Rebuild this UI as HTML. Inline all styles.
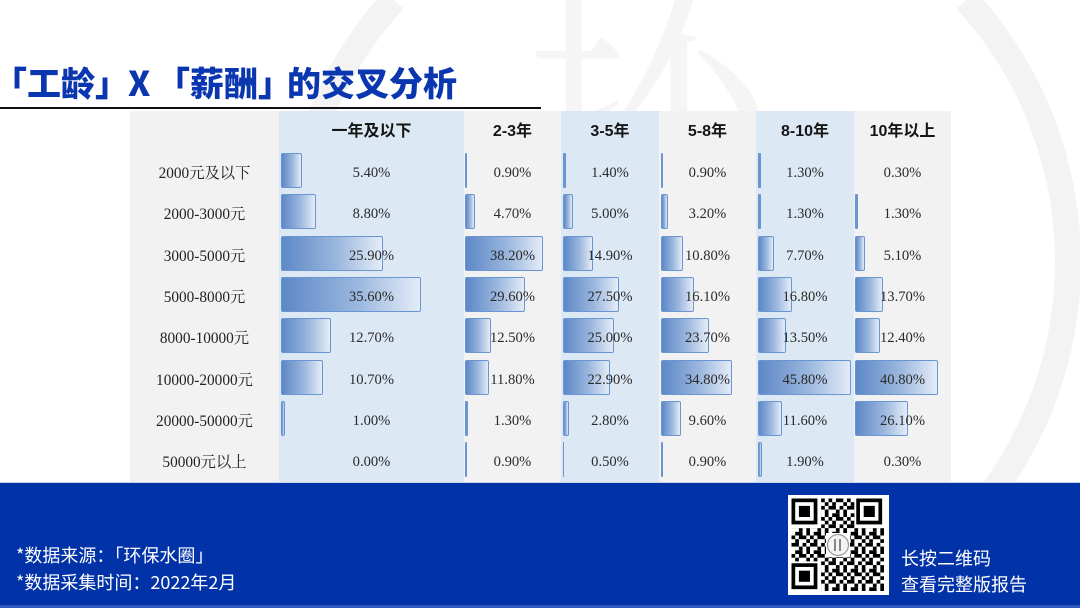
<!DOCTYPE html>
<html>
<head>
<meta charset="utf-8">
<style>
  html{margin:0;padding:0;width:1080px;height:608px;overflow:hidden;}
  body{margin:0;padding:0;width:1080px;height:608px;position:relative;overflow:hidden;background:#ffffff;
       font-family:"Liberation Sans","Noto Sans CJK SC",sans-serif;}
  .abs{position:absolute;}
  .title{position:absolute;top:64px;height:36px;line-height:36px;font-size:34px;font-weight:900;
         color:#0a36b0;font-family:"Noto Sans CJK SC","Liberation Sans",sans-serif;white-space:nowrap;}
  .col{position:absolute;top:111px;height:372px;}
  .hd{position:absolute;top:120px;height:24px;line-height:24px;text-align:center;font-size:16px;font-weight:bold;
      color:#151515;font-family:"Liberation Sans","Noto Sans CJK SC",sans-serif;white-space:nowrap;}
  .row{position:absolute;left:130px;width:821px;height:35px;}
  .lab{position:absolute;left:0;width:149px;top:3px;height:35px;line-height:35px;text-align:center;
       font-size:15.3px;color:#222;font-family:"Liberation Serif","Noto Serif CJK SC",serif;white-space:nowrap;}
  .b{position:absolute;top:0;height:35px;box-sizing:border-box;border:1px solid #6a95d3;border-radius:2px;
     background:linear-gradient(90deg,#5d88c7 0%,#9bb7de 55%,#e4ecf7 100%);}
  .t{position:absolute;top:0;height:35px;background:#6a95d3;border-radius:1px;}
  .v{position:absolute;top:3px;height:35px;line-height:35px;text-align:center;font-size:14.6px;color:#2a2a2a;
     font-family:"Liberation Serif",serif;white-space:nowrap;}
  .foot{position:absolute;left:0;top:483px;width:1080px;height:125px;background:#0232a8;}
  .ft{position:absolute;color:#ffffff;font-size:18px;line-height:26px;white-space:nowrap;
      font-family:"Noto Sans CJK SC","Liberation Sans",sans-serif;}
</style>
</head>
<body>

<!-- watermark ring (arcs only within frame) -->
<svg class="abs" style="left:0;top:0" width="1080" height="608" viewBox="0 0 1080 608">
  <path d="M 966.2 0 A 388 388 0 0 1 855.6 608" fill="none" stroke="#f3f3f3" stroke-width="26"/>
  <path d="M 393.8 0 A 388 388 0 0 0 504.4 608" fill="none" stroke="#f3f3f3" stroke-width="26"/>
</svg>
<div class="abs" style="left:520px;top:-70px;height:260px;font-size:250px;line-height:260px;color:#f5f5f5;font-family:'Noto Serif CJK SC',serif;">环</div>

<!-- title -->
<div class="title" style="left:10px;">｢工龄｣</div>
<div class="title" style="left:128px;">X</div>
<div class="title" style="left:173px;">｢薪酬｣</div>
<div class="title" style="left:287px;">的交叉分析</div>
<div class="abs" style="left:0;top:107px;width:541px;height:2px;background:#111;"></div>

<!-- table background -->
<div class="abs" style="left:130px;top:111px;width:821px;height:372px;background:#f2f2f2;"></div>
<div class="col" style="left:279px;width:185px;background:#dce8f4;"></div>
<div class="col" style="left:561px;width:98px;background:#dce8f4;"></div>
<div class="col" style="left:756px;width:98px;background:#dce8f4;"></div>

<!-- headers -->
<div class="hd" style="left:279px;width:185px;">一年及以下</div>
<div class="hd" style="left:464px;width:97px;">2-3年</div>
<div class="hd" style="left:561px;width:98px;">3-5年</div>
<div class="hd" style="left:659px;width:97px;">5-8年</div>
<div class="hd" style="left:756px;width:98px;">8-10年</div>
<div class="hd" style="left:854px;width:97px;">10年以上</div>

<!-- row 1 -->
<div class="row" style="top:153px;">
  <div class="b" style="left:151px;width:21.2px;"></div>
  <div class="t" style="left:335px;width:1.8px;"></div>
  <div class="t" style="left:433px;width:2.9px;"></div>
  <div class="t" style="left:531px;width:1.8px;"></div>
  <div class="t" style="left:628px;width:2.7px;"></div>
  <div class="lab">2000元及以下</div>
  <div class="v" style="left:149px;width:185px;">5.40%</div>
  <div class="v" style="left:334px;width:97px;">0.90%</div>
  <div class="v" style="left:431px;width:98px;">1.40%</div>
  <div class="v" style="left:529px;width:97px;">0.90%</div>
  <div class="v" style="left:626px;width:98px;">1.30%</div>
  <div class="v" style="left:724px;width:97px;">0.30%</div>
</div>

<!-- row 2 -->
<div class="row" style="top:194.3px;">
  <div class="b" style="left:151px;width:34.6px;"></div>
  <div class="b" style="left:335px;width:9.6px;"></div>
  <div class="b" style="left:433px;width:10.2px;"></div>
  <div class="b" style="left:531px;width:6.5px;"></div>
  <div class="t" style="left:628px;width:2.7px;"></div>
  <div class="t" style="left:725px;width:2.7px;"></div>
  <div class="lab">2000-3000元</div>
  <div class="v" style="left:149px;width:185px;">8.80%</div>
  <div class="v" style="left:334px;width:97px;">4.70%</div>
  <div class="v" style="left:431px;width:98px;">5.00%</div>
  <div class="v" style="left:529px;width:97px;">3.20%</div>
  <div class="v" style="left:626px;width:98px;">1.30%</div>
  <div class="v" style="left:724px;width:97px;">1.30%</div>
</div>

<!-- row 3 -->
<div class="row" style="top:235.6px;">
  <div class="b" style="left:151px;width:101.8px;"></div>
  <div class="b" style="left:335px;width:77.9px;"></div>
  <div class="b" style="left:433px;width:30.4px;"></div>
  <div class="b" style="left:531px;width:22px;"></div>
  <div class="b" style="left:628px;width:15.7px;"></div>
  <div class="b" style="left:725px;width:10.4px;"></div>
  <div class="lab">3000-5000元</div>
  <div class="v" style="left:149px;width:185px;">25.90%</div>
  <div class="v" style="left:334px;width:97px;">38.20%</div>
  <div class="v" style="left:431px;width:98px;">14.90%</div>
  <div class="v" style="left:529px;width:97px;">10.80%</div>
  <div class="v" style="left:626px;width:98px;">7.70%</div>
  <div class="v" style="left:724px;width:97px;">5.10%</div>
</div>

<!-- row 4 -->
<div class="row" style="top:276.9px;">
  <div class="b" style="left:151px;width:139.9px;"></div>
  <div class="b" style="left:335px;width:60.4px;"></div>
  <div class="b" style="left:433px;width:56.1px;"></div>
  <div class="b" style="left:531px;width:32.8px;"></div>
  <div class="b" style="left:628px;width:34.3px;"></div>
  <div class="b" style="left:725px;width:27.9px;"></div>
  <div class="lab">5000-8000元</div>
  <div class="v" style="left:149px;width:185px;">35.60%</div>
  <div class="v" style="left:334px;width:97px;">29.60%</div>
  <div class="v" style="left:431px;width:98px;">27.50%</div>
  <div class="v" style="left:529px;width:97px;">16.10%</div>
  <div class="v" style="left:626px;width:98px;">16.80%</div>
  <div class="v" style="left:724px;width:97px;">13.70%</div>
</div>

<!-- row 5 -->
<div class="row" style="top:318.2px;">
  <div class="b" style="left:151px;width:49.9px;"></div>
  <div class="b" style="left:335px;width:25.5px;"></div>
  <div class="b" style="left:433px;width:51px;"></div>
  <div class="b" style="left:531px;width:48.3px;"></div>
  <div class="b" style="left:628px;width:27.5px;"></div>
  <div class="b" style="left:725px;width:25.3px;"></div>
  <div class="lab">8000-10000元</div>
  <div class="v" style="left:149px;width:185px;">12.70%</div>
  <div class="v" style="left:334px;width:97px;">12.50%</div>
  <div class="v" style="left:431px;width:98px;">25.00%</div>
  <div class="v" style="left:529px;width:97px;">23.70%</div>
  <div class="v" style="left:626px;width:98px;">13.50%</div>
  <div class="v" style="left:724px;width:97px;">12.40%</div>
</div>

<!-- row 6 -->
<div class="row" style="top:359.5px;">
  <div class="b" style="left:151px;width:42px;"></div>
  <div class="b" style="left:335px;width:24.1px;"></div>
  <div class="b" style="left:433px;width:46.7px;"></div>
  <div class="b" style="left:531px;width:71px;"></div>
  <div class="b" style="left:628px;width:93.4px;"></div>
  <div class="b" style="left:725px;width:83.2px;"></div>
  <div class="lab">10000-20000元</div>
  <div class="v" style="left:149px;width:185px;">10.70%</div>
  <div class="v" style="left:334px;width:97px;">11.80%</div>
  <div class="v" style="left:431px;width:98px;">22.90%</div>
  <div class="v" style="left:529px;width:97px;">34.80%</div>
  <div class="v" style="left:626px;width:98px;">45.80%</div>
  <div class="v" style="left:724px;width:97px;">40.80%</div>
</div>

<!-- row 7 -->
<div class="row" style="top:400.8px;">
  <div class="b" style="left:151px;width:4px;"></div>
  <div class="t" style="left:335px;width:2.7px;"></div>
  <div class="b" style="left:433px;width:5.7px;"></div>
  <div class="b" style="left:531px;width:19.6px;"></div>
  <div class="b" style="left:628px;width:23.7px;"></div>
  <div class="b" style="left:725px;width:53.2px;"></div>
  <div class="lab">20000-50000元</div>
  <div class="v" style="left:149px;width:185px;">1.00%</div>
  <div class="v" style="left:334px;width:97px;">1.30%</div>
  <div class="v" style="left:431px;width:98px;">2.80%</div>
  <div class="v" style="left:529px;width:97px;">9.60%</div>
  <div class="v" style="left:626px;width:98px;">11.60%</div>
  <div class="v" style="left:724px;width:97px;">26.10%</div>
</div>

<!-- row 8 -->
<div class="row" style="top:442.1px;">
  <div class="t" style="left:335px;width:1.8px;"></div>
  <div class="t" style="left:433px;width:1.2px;"></div>
  <div class="t" style="left:531px;width:1.8px;"></div>
  <div class="b" style="left:628px;width:3.9px;"></div>
  <div class="lab">50000元以上</div>
  <div class="v" style="left:149px;width:185px;">0.00%</div>
  <div class="v" style="left:334px;width:97px;">0.90%</div>
  <div class="v" style="left:431px;width:98px;">0.50%</div>
  <div class="v" style="left:529px;width:97px;">0.90%</div>
  <div class="v" style="left:626px;width:98px;">1.90%</div>
  <div class="v" style="left:724px;width:97px;">0.30%</div>
</div>

<!-- footer -->
<div class="foot"></div>
<div class="abs" style="left:0;top:482px;width:1080px;height:1px;background:#c9d3ea;"></div>
<div class="abs" style="left:0;top:605px;width:1080px;height:3px;background:#2f58c0;"></div>
<div class="ft" style="left:16px;top:542px;">*数据来源：「环保水圈」</div>
<div class="ft" style="left:16px;top:569px;">*数据采集时间：2022年2月</div>

<!-- QR code -->
<svg class="abs" style="left:788px;top:495px" width="101" height="100" viewBox="0 0 101 100">
  <defs>
    <pattern id="qp" patternUnits="userSpaceOnUse" x="3.5" y="3.5" width="18.5" height="18.5">
      <rect x="0" y="0" width="3.7" height="3.7" fill="#000"/>
      <rect x="7.4" y="0" width="7.4" height="3.7" fill="#000"/>
      <rect x="3.7" y="3.7" width="3.7" height="3.7" fill="#000"/>
      <rect x="14.8" y="3.7" width="3.7" height="3.7" fill="#000"/>
      <rect x="0" y="7.4" width="7.4" height="3.7" fill="#000"/>
      <rect x="11.1" y="7.4" width="3.7" height="3.7" fill="#000"/>
      <rect x="7.4" y="11.1" width="3.7" height="3.7" fill="#000"/>
      <rect x="14.8" y="11.1" width="3.7" height="7.4" fill="#000"/>
      <rect x="3.7" y="14.8" width="7.4" height="3.7" fill="#000"/>
    </pattern>
  </defs>
  <rect x="0" y="0" width="101" height="100" fill="#fff"/>
  <rect x="3.5" y="3.5" width="92.5" height="92.5" fill="url(#qp)"/>
  <rect x="3.5" y="3.5" width="29.6" height="29.6" fill="#fff"/>
  <rect x="66.4" y="3.5" width="29.6" height="29.6" fill="#fff"/>
  <rect x="3.5" y="66.4" width="29.6" height="29.6" fill="#fff"/>
  <g fill="none" stroke="#000" stroke-width="3.7">
    <rect x="5.35" y="5.35" width="22.2" height="22.2"/>
    <rect x="70.1" y="5.35" width="22.2" height="22.2"/>
    <rect x="5.35" y="70.1" width="22.2" height="22.2"/>
  </g>
  <rect x="10.9" y="10.9" width="11.1" height="11.1" fill="#000"/>
  <rect x="75.7" y="10.9" width="11.1" height="11.1" fill="#000"/>
  <rect x="10.9" y="75.7" width="11.1" height="11.1" fill="#000"/>
  <rect x="38" y="38" width="24" height="24" fill="#fff"/>
  <circle cx="50" cy="50" r="10.5" fill="#f4f4f4" stroke="#999" stroke-width="1.2"/>
  <rect x="46" y="44" width="2" height="12" fill="#888"/>
  <rect x="51" y="44" width="2" height="12" fill="#888"/>
</svg>
<div class="ft" style="left:901px;top:545px;">长按二维码</div>
<div class="ft" style="left:901px;top:571px;">查看完整版报告</div>

</body>
</html>
